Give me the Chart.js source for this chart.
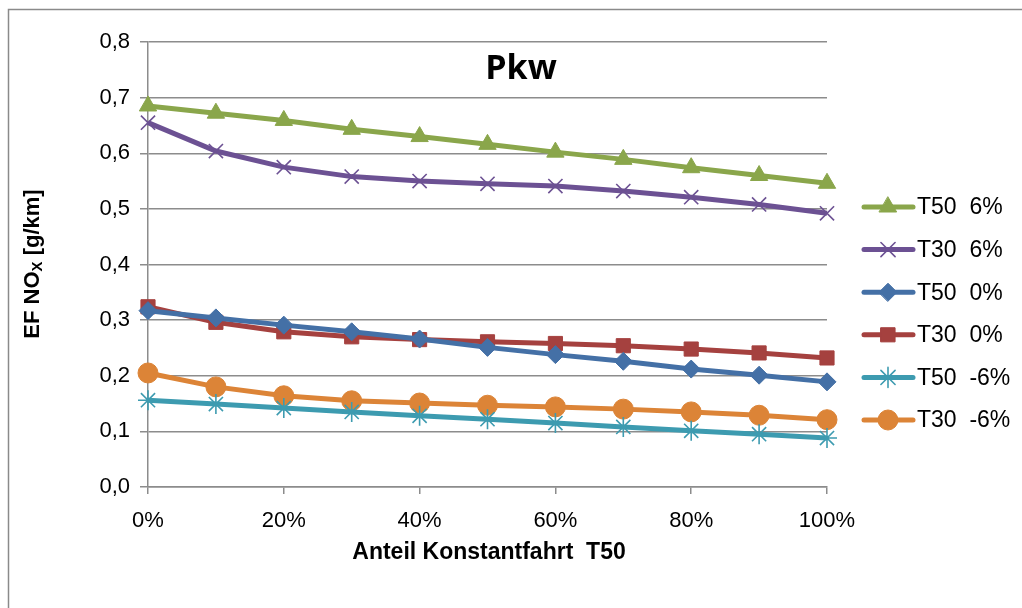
<!DOCTYPE html>
<html lang="de">
<head>
    <meta charset="UTF-8">
    <title>Pkw - EF NOx</title>
    <script src="https://cdn.jsdelivr.net/npm/chart.js"></script>
    <style>
        html, body { margin: 0; padding: 0; background: #fff; }
        #wrap { width: 1022px; height: 608px; position: relative; }
    </style>
</head>
<body>
    <div id="wrap"><canvas id="chart" width="1022" height="608"></canvas></div>

    <script>
        // Anteil Konstantfahrt T50 in %
        const shares = [0, 10, 20, 30, 40, 50, 60, 70, 80, 90, 100];

        const seriesNames = ['T50  6%', 'T30  6%', 'T50  0%', 'T30  0%', 'T50  -6%', 'T30  -6%'];

        const t50Plus6 = [0.685, 0.672, 0.659, 0.643, 0.630, 0.616, 0.602, 0.589, 0.574, 0.560, 0.546];
        const t30Plus6 = [0.655, 0.604, 0.575, 0.558, 0.550, 0.545, 0.541, 0.532, 0.521, 0.508, 0.492];
        const t50Zero = [0.317, 0.304, 0.291, 0.279, 0.266, 0.251, 0.238, 0.226, 0.212, 0.201, 0.189];
        const t30Zero = [0.324, 0.296, 0.279, 0.270, 0.265, 0.261, 0.258, 0.254, 0.248, 0.241, 0.232];
        const t50Minus6 = [0.156, 0.149, 0.142, 0.135, 0.128, 0.122, 0.115, 0.108, 0.101, 0.095, 0.088];
        const t30Minus6 = [0.205, 0.180, 0.164, 0.155, 0.151, 0.147, 0.144, 0.140, 0.135, 0.129, 0.121];

        const yTicks = [0, 0.1, 0.2, 0.3, 0.4, 0.5, 0.6, 0.7, 0.8];
        const xTicks = [0, 20, 40, 60, 80, 100];

        const colors = ['#8aa64b', '#6c5193', '#4470a6', '#a5413f', '#3d9bb0', '#dc8437'];
        const markers = ['triangle', 'crossRot', 'rectRot', 'rect', 'star', 'circle'];
        const markerSize = [10, 10, 9, 10, 10, 10];
        const allSeries = [t50Plus6, t30Plus6, t50Zero, t30Zero, t50Minus6, t30Minus6];

        const FONT = '"Liberation Sans", Arial, sans-serif';

        function pts(values) {
            return values.map((v, i) => ({ x: shares[i], y: v }));
        }

        const datasets = allSeries.map((values, i) => {
            const open = markers[i] === 'crossRot' || markers[i] === 'star';
            return {
                label: seriesNames[i],
                data: pts(values),
                borderColor: colors[i],
                backgroundColor: colors[i],
                borderWidth: 5,
                pointStyle: markers[i],
                pointRadius: markerSize[i],
                pointBorderWidth: open ? 1.6 : 1,
                pointBorderColor: colors[i],
                pointBackgroundColor: colors[i],
                tension: 0,
                clip: false
            };
        });

        // frame, title, axis titles and legend are drawn by hand
        const extras = {
            id: 'extras',
            beforeDraw(chart) {
                const c = chart.ctx;
                c.save();
                c.fillStyle = '#fff';
                c.fillRect(0, 0, chart.width, chart.height);
                c.strokeStyle = '#8a8a8a';
                c.lineWidth = 1.5;
                c.strokeRect(8.5, 9.5, 1040, 640);
                c.restore();
            },
            afterDraw(chart) {
                const c = chart.ctx;
                c.save();
                c.fillStyle = '#000';

                // title
                c.font = 'bold 34px "Open Sans", sans-serif';
                c.textAlign = 'center';
                c.textBaseline = 'alphabetic';
                c.fillText('Pkw', 521, 79);

                // x title
                c.textBaseline = 'middle';
                c.font = 'bold 23px ' + FONT;
                c.fillText('Anteil Konstantfahrt  T50', 489, 553);

                // y title with subscript
                c.translate(33, 264);
                c.rotate(-Math.PI / 2);
                c.textAlign = 'left';
                c.textBaseline = 'middle';
                const big = 'bold 22px ' + FONT;
                const small = 'bold 15px ' + FONT;
                const p1 = 'EF NO', p3 = ' [g/km]';
                c.font = small;
                const wSub = c.measureText('X').width;
                c.font = big;
                const total = c.measureText(p1).width + wSub + c.measureText(p3).width;
                let x = -total / 2;
                c.fillText(p1, x, 0);
                x += c.measureText(p1).width;
                c.font = small;
                c.fillText('X', x, 5);
                x += wSub;
                c.font = big;
                c.fillText(p3, x, 0);
                c.restore();

                // legend
                c.save();
                c.font = '23px ' + FONT;
                c.textBaseline = 'middle';
                c.textAlign = 'left';
                chart.data.datasets.forEach((ds, i) => {
                    const y = 207 + i * 42.6;
                    c.strokeStyle = ds.borderColor;
                    c.lineWidth = 5;
                    c.lineCap = 'round';
                    c.beginPath();
                    c.moveTo(864, y);
                    c.lineTo(913, y);
                    c.stroke();
                    c.fillStyle = ds.borderColor;
                    c.lineWidth = ds.pointBorderWidth;
                    Chart.helpers.drawPoint(c, {
                        pointStyle: ds.pointStyle,
                        radius: ds.pointRadius,
                        rotation: 0,
                        borderWidth: ds.pointBorderWidth
                    }, 888, y);
                    c.fillStyle = '#000';
                    c.fillText(ds.label, 917, y + 1);
                });
                c.restore();
            }
        };

        new Chart(document.getElementById('chart'), {
            type: 'line',
            data: { datasets: datasets },
            options: {
                responsive: false,
                animation: false,
                events: [],
                layout: { padding: { left: 0, top: 42, right: 195, bottom: 0 } },
                plugins: {
                    legend: { display: false },
                    title: { display: false },
                    tooltip: { enabled: false }
                },
                scales: {
                    x: {
                        type: 'linear',
                        min: 0,
                        max: 100,
                        afterFit(scale) { scale.height = 121; },
                        afterBuildTicks(scale) {
                            scale.ticks = xTicks.map(v => ({ value: v }));
                        },
                        ticks: {
                            callback: v => v + '%',
                            color: '#000',
                            font: { family: FONT, size: 22 },
                            padding: 14,
                            maxRotation: 0
                        },
                        grid: {
                            drawOnChartArea: false,
                            drawTicks: true,
                            tickLength: 7,
                            color: '#8c8c8c',
                            lineWidth: 1.5
                        },
                        border: { display: true, color: '#8c8c8c', width: 1.5 }
                    },
                    y: {
                        min: 0,
                        max: 0.8,
                        afterFit(scale) { scale.width = 148; },
                        afterBuildTicks(scale) {
                            scale.ticks = yTicks.map(v => ({ value: v }));
                        },
                        ticks: {
                            callback: v => v.toFixed(1).replace('.', ','),
                            color: '#000',
                            font: { family: FONT, size: 22 },
                            padding: 10
                        },
                        grid: {
                            color: '#8c8c8c',
                            lineWidth: 1.5,
                            tickLength: 8
                        },
                        border: { display: true, color: '#8c8c8c', width: 1.5 }
                    }
                }
            },
            plugins: [extras]
        });
    </script>
</body>
</html>
